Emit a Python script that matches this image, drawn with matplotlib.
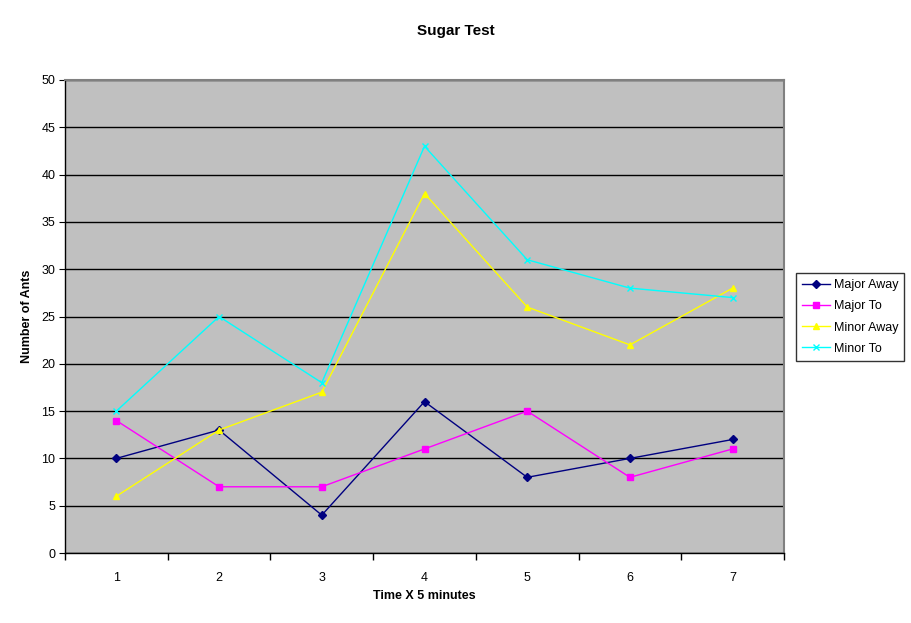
import matplotlib
matplotlib.use("Agg")
import matplotlib.pyplot as plt
import numpy as np

categories = ["1", "2", "3", "4", "5", "6", "7"]
major_away = [10, 13, 4, 16, 8, 10, 12]
major_to = [14, 7, 7, 11, 15, 8, 11]
minor_away = [6, 13, 17, 38, 26, 22, 28]
minor_to = [15, 25, 18, 43, 31, 28, 27]

plt.rcParams['font.family'] = ['Liberation Sans', 'DejaVu Sans']

fig = plt.figure(figsize=(9.11, 6.23), dpi=100)
ax = fig.add_axes([65/911, 1-553/623, (784-65)/911, (553-80)/623])
ax.set_facecolor('#C0C0C0')

x = np.arange(len(categories))
series = [
    ("Major Away", major_away, '#000080', 'D', 4),
    ("Major To", major_to, '#FF00FF', 's', 4.5),
    ("Minor Away", minor_away, '#FFFF00', '^', 5),
    ("Minor To", minor_to, '#00FFFF', 'x', 4.5),
]
for name, vals, col, mk, ms in series:
    ax.plot(x, vals, color=col, marker=mk, markersize=ms, linewidth=1,
            markeredgewidth=1, label=name, zorder=3)

ax.set_xlim(-0.5, len(categories) - 0.5)
ax.set_ylim(0, 50)
ax.set_yticks(np.arange(0, 51, 5))
ax.set_xticks(x)
ax.set_xticklabels(categories)
ax.set_xticks(np.arange(-0.5, len(categories), 1), minor=True)
ax.tick_params(axis='x', which='major', length=0, pad=14, labelsize=9)
ax.tick_params(axis='x', which='minor', length=5, direction='out', width=1)
ax.tick_params(axis='y', length=4, direction='out', labelsize=9, pad=3)
ax.yaxis.grid(True, color='black', linewidth=1)
ax.set_axisbelow(True)

for s in ['top', 'right']:
    ax.spines[s].set_color('#808080')
    ax.spines[s].set_linewidth(1.5)
for s in ['left', 'bottom']:
    ax.spines[s].set_color('black')
    ax.spines[s].set_linewidth(1)

fig.text(456/911, 1-31/623, "Sugar Test", ha='center', va='center',
         fontsize=11, fontweight='bold')
fig.text(424/911, 1-596/623, "Time X 5 minutes", ha='center', va='center',
         fontsize=9, fontweight='bold')
fig.text(27/911, 1-316/623, "Number of Ants", ha='center', va='center',
         fontsize=9, fontweight='bold', rotation=90)

leg = fig.legend(loc='upper left', bbox_to_anchor=(796/911, 1-273/623),
                 frameon=True, fancybox=False, fontsize=9, handlelength=2.2,
                 handletextpad=0.3, borderpad=0.5, labelspacing=0.73,
                 borderaxespad=0)
leg.get_frame().set_edgecolor('black')
leg.get_frame().set_linewidth(1)

fig.savefig("out.png", dpi=100)
